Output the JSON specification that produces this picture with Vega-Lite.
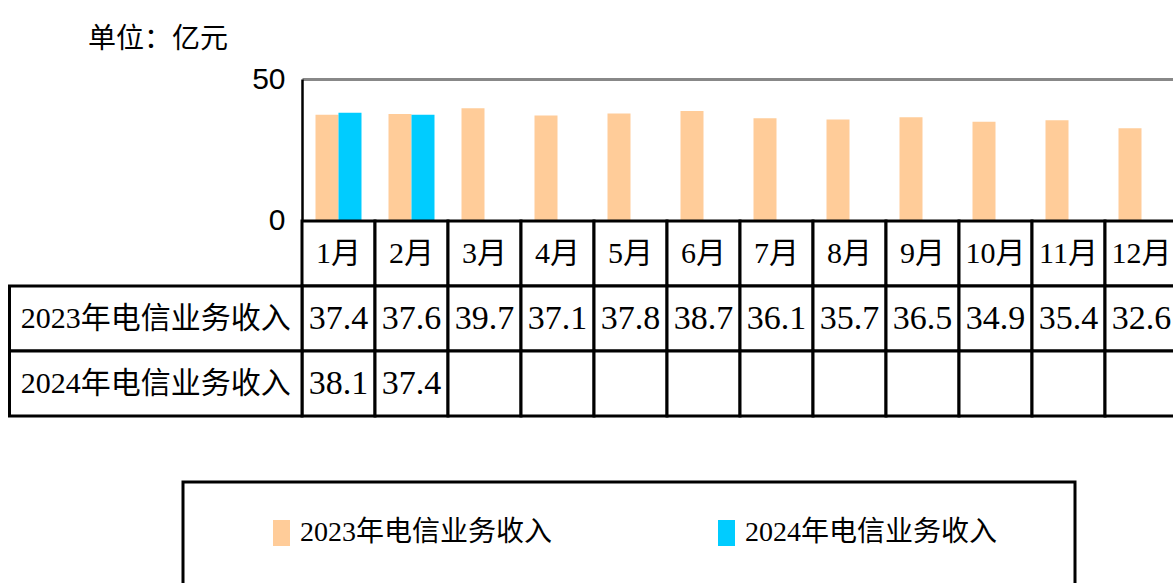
{
  "$schema": "https://vega.github.io/schema/vega-lite/v6.json",
  "width": 876,
  "height": 504,
  "autosize": {"type": "none"},
  "padding": {"left": 302, "top": 79, "right": 0, "bottom": 0},
  "background": "white",
  "title": {"text": "单位：亿元", "anchor": "start", "frame": "group", "dx": -214, "offset": 10, "fontSize": 28, "font": "Noto Sans CJK SC", "fontWeight": "normal", "color": "black"},
  "config": {"view": {"stroke": null}},
  "datasets": {
    "table": [
      {"month": "1月", "series": "2023年电信业务收入", "value": 37.4},
      {"month": "2月", "series": "2023年电信业务收入", "value": 37.6},
      {"month": "3月", "series": "2023年电信业务收入", "value": 39.7},
      {"month": "4月", "series": "2023年电信业务收入", "value": 37.1},
      {"month": "5月", "series": "2023年电信业务收入", "value": 37.8},
      {"month": "6月", "series": "2023年电信业务收入", "value": 38.7},
      {"month": "7月", "series": "2023年电信业务收入", "value": 36.1},
      {"month": "8月", "series": "2023年电信业务收入", "value": 35.7},
      {"month": "9月", "series": "2023年电信业务收入", "value": 36.5},
      {"month": "10月", "series": "2023年电信业务收入", "value": 34.9},
      {"month": "11月", "series": "2023年电信业务收入", "value": 35.4},
      {"month": "12月", "series": "2023年电信业务收入", "value": 32.6},
      {"month": "1月", "series": "2024年电信业务收入", "value": 38.1},
      {"month": "2月", "series": "2024年电信业务收入", "value": 37.4},
      {"month": "3月", "series": "2024年电信业务收入", "value": null},
      {"month": "4月", "series": "2024年电信业务收入", "value": null},
      {"month": "5月", "series": "2024年电信业务收入", "value": null},
      {"month": "6月", "series": "2024年电信业务收入", "value": null},
      {"month": "7月", "series": "2024年电信业务收入", "value": null},
      {"month": "8月", "series": "2024年电信业务收入", "value": null},
      {"month": "9月", "series": "2024年电信业务收入", "value": null},
      {"month": "10月", "series": "2024年电信业务收入", "value": null},
      {"month": "11月", "series": "2024年电信业务收入", "value": null},
      {"month": "12月", "series": "2024年电信业务收入", "value": null}
    ]
  },
  "resolve": {"scale": {"x": "independent", "y": "independent"}},
  "layer": [
    {
      "data": {"name": "table"},
      "mark": {"type": "bar"},
      "encoding": {
        "x": {"field": "month", "type": "nominal", "scale": {"domain": ["1月","2月","3月","4月","5月","6月","7月","8月","9月","10月","11月","12月"], "paddingInner": 0, "paddingOuter": 0}, "axis": null},
        "xOffset": {"field": "series", "type": "nominal", "scale": {"domain": ["2023年电信业务收入","2024年电信业务收入"], "paddingInner": 0, "paddingOuter": 0.587}},
        "y": {"field": "value", "type": "quantitative", "scale": {"domain": [0, 50], "range": [141.5, 0], "nice": false},
          "axis": {"values": [0, 50], "title": null, "grid": true, "gridColor": "#888888", "gridWidth": 3, "domainColor": "black", "domainWidth": 2.5, "ticks": false, "labelFontSize": 30, "labelFont": "Liberation Sans", "labelColor": "black", "labelPadding": 17}},
        "color": {"field": "series", "type": "nominal", "scale": {"domain": ["2023年电信业务收入","2024年电信业务收入"], "range": ["#FFCC99", "#00CCFF"]}, "legend": null}
      }
    },
    {
      "data": {"name": "table"},
      "transform": [{"filter": "datum.series === '2023年电信业务收入'"}],
      "encoding": {
        "x": {"field": "month", "type": "nominal", "scale": {"domain": ["1月","2月","3月","4月","5月","6月","7月","8月","9月","10月","11月","12月"], "paddingInner": 0, "paddingOuter": 0}, "axis": null},
        "y": {"datum": "月份", "type": "nominal", "scale": {"domain": ["月份","2023年电信业务收入","2024年电信业务收入"], "range": [142, 337], "paddingInner": 0, "paddingOuter": 0}, "axis": null}
      },
      "layer": [
        {"mark": {"type": "rect", "fill": "white", "stroke": "black", "strokeWidth": 3}},
        {"mark": {"type": "text", "font": "'Liberation Serif', 'Noto Sans CJK SC'", "fontSize": 30, "fill": "black"}, "encoding": {"text": {"field": "month", "type": "nominal"}}}
      ]
    },
    {
      "data": {"name": "table"},
      "encoding": {
        "x": {"field": "month", "type": "nominal", "scale": {"domain": ["1月","2月","3月","4月","5月","6月","7月","8月","9月","10月","11月","12月"], "paddingInner": 0, "paddingOuter": 0}, "axis": null},
        "y": {"field": "series", "type": "nominal", "scale": {"domain": ["月份","2023年电信业务收入","2024年电信业务收入"], "range": [142, 337], "paddingInner": 0, "paddingOuter": 0}, "axis": null}
      },
      "layer": [
        {"mark": {"type": "rect", "fill": "white", "stroke": "black", "strokeWidth": 3}},
        {"transform": [{"filter": "datum.value != null"}], "mark": {"type": "text", "font": "'Liberation Serif', 'Noto Sans CJK SC'", "fontSize": 34, "fill": "black"}, "encoding": {"text": {"field": "value", "type": "quantitative", "format": ".1f"}}}
      ]
    },
    {
      "data": {"name": "table"},
      "transform": [{"filter": "datum.month === '1月'"}],
      "encoding": {
        "x": {"datum": "项目", "type": "nominal", "scale": {"domain": ["项目"], "range": [-292.5, 0], "paddingInner": 0, "paddingOuter": 0}, "axis": null},
        "y": {"field": "series", "type": "nominal", "scale": {"domain": ["月份","2023年电信业务收入","2024年电信业务收入"], "range": [142, 337], "paddingInner": 0, "paddingOuter": 0}, "axis": null}
      },
      "layer": [
        {"mark": {"type": "rect", "fill": "white", "stroke": "black", "strokeWidth": 3}},
        {"mark": {"type": "text", "font": "'Liberation Serif', 'Noto Sans CJK SC'", "fontSize": 30, "fill": "black"}, "encoding": {"text": {"field": "series", "type": "nominal"}}}
      ]
    },
    {
      "data": {"values": [{"item": "图例"}]},
      "mark": {"type": "rect", "fill": "white", "stroke": "black", "strokeWidth": 3},
      "encoding": {
        "x": {"field": "item", "type": "nominal", "scale": {"range": [-119, 773], "paddingInner": 0, "paddingOuter": 0}, "axis": null},
        "y": {"field": "item", "type": "nominal", "scale": {"range": [403, 620], "paddingInner": 0, "paddingOuter": 0}, "axis": null}
      }
    },
    {
      "data": {"name": "table"},
      "transform": [{"filter": "datum.month === '1月'"}],
      "encoding": {
        "x": {"field": "series", "type": "nominal", "scale": {"type": "point", "domain": ["2023年电信业务收入","2024年电信业务收入"], "range": [-20.5, 424.5], "padding": 0}, "axis": null},
        "y": {"datum": "图例", "type": "nominal", "scale": {"type": "point", "domain": ["图例"], "range": [441, 467], "padding": 0.5}, "axis": null}
      },
      "layer": [
        {"mark": {"type": "rect", "width": 17, "height": 26}, "encoding": {"color": {"field": "series", "type": "nominal", "scale": {"domain": ["2023年电信业务收入","2024年电信业务收入"], "range": ["#FFCC99", "#00CCFF"]}, "legend": null}}},
        {"mark": {"type": "text", "align": "left", "dx": 18.5, "font": "'Liberation Serif', 'Noto Sans CJK SC'", "fontSize": 28, "fill": "black"}, "encoding": {"text": {"field": "series", "type": "nominal"}}}
      ]
    }
  ]
}
